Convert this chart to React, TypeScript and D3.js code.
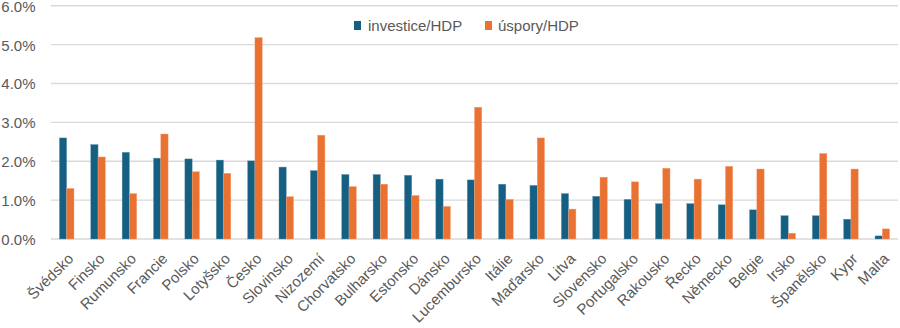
import React from "react";
import * as d3 from "d3";

const countries = ["Švédsko","Finsko","Rumunsko","Francie","Polsko","Lotyšsko","Česko","Slovinsko","Nizozemí","Chorvatsko","Bulharsko","Estonsko","Dánsko","Lucembursko","Itálie","Maďarsko","Litva","Slovensko","Portugalsko","Rakousko","Řecko","Německo","Belgie","Irsko","Španělsko","Kypr","Malta"];
const investice = [2.60,2.43,2.23,2.08,2.06,2.03,2.01,1.85,1.76,1.66,1.66,1.64,1.54,1.52,1.41,1.38,1.17,1.10,1.02,0.91,0.91,0.88,0.75,0.60,0.60,0.51,0.08];
const uspory = [1.30,2.11,1.17,2.70,1.73,1.69,5.18,1.09,2.67,1.35,1.41,1.12,0.84,3.39,1.02,2.60,0.77,1.59,1.47,1.82,1.54,1.87,1.80,0.15,2.20,1.80,0.26];
const yTicks = [0,1,2,3,4,5,6];
const seriesNames = ["investice/HDP","úspory/HDP"];
const colors = ["#156082","#E97132"];

export default function App() {
  const W = 900, H = 328;
  const left = 51, right = 898, top = 5.7, bottom = 239;
  const x = d3.scaleBand<string>().domain(countries).range([left, right]).paddingInner(0).paddingOuter(0);
  const y = d3.scaleLinear().domain([0, 6]).range([bottom, top]);
  const barW = 7.3;
  const font = "'Liberation Sans', Arial, sans-serif";
  const textColor = "#595959";
  return (
    <svg width={W} height={H} style={{ position: "absolute", left: 0, top: 0, background: "#fff" }} fontFamily={font}>
      {yTicks.map((t) => (
        <g key={t}>
          <line x1={left} x2={right} y1={y(t)} y2={y(t)} stroke="#d9d9d9" strokeWidth={1.4} />
          <text x={35.5} y={y(t)} dy="0.4em" textAnchor="end" fontSize={15} fill={textColor}>{t.toFixed(1) + "%"}</text>
        </g>
      ))}
      {countries.map((c, i) => {
        const cx = (x(c) as number) + x.bandwidth() / 2;
        return (
          <g key={c}>
            <rect x={cx - barW} y={y(investice[i])} width={barW} height={y(0) - y(investice[i])} fill={colors[0]} stroke="#6f9bb3" strokeWidth={0.4} />
            <rect x={cx} y={y(uspory[i])} width={barW} height={y(0) - y(uspory[i])} fill={colors[1]} stroke="#f4a77e" strokeWidth={0.4} />
            <text transform={`translate(${cx + 4},${256}) rotate(-45)`} textAnchor="end" fontSize={15} fill={textColor} dy="0.35em">{c}</text>
          </g>
        );
      })}
      <g>
        <rect x={354} y={21} width={7} height={9} fill={colors[0]} />
        <text x={368} y={26} dy="0.35em" fontSize={15} fill={textColor}>{seriesNames[0]}</text>
        <rect x={485} y={21} width={7} height={9} fill={colors[1]} />
        <text x={498} y={26} dy="0.35em" fontSize={15} fill={textColor}>{seriesNames[1]}</text>
      </g>
    </svg>
  );
}
